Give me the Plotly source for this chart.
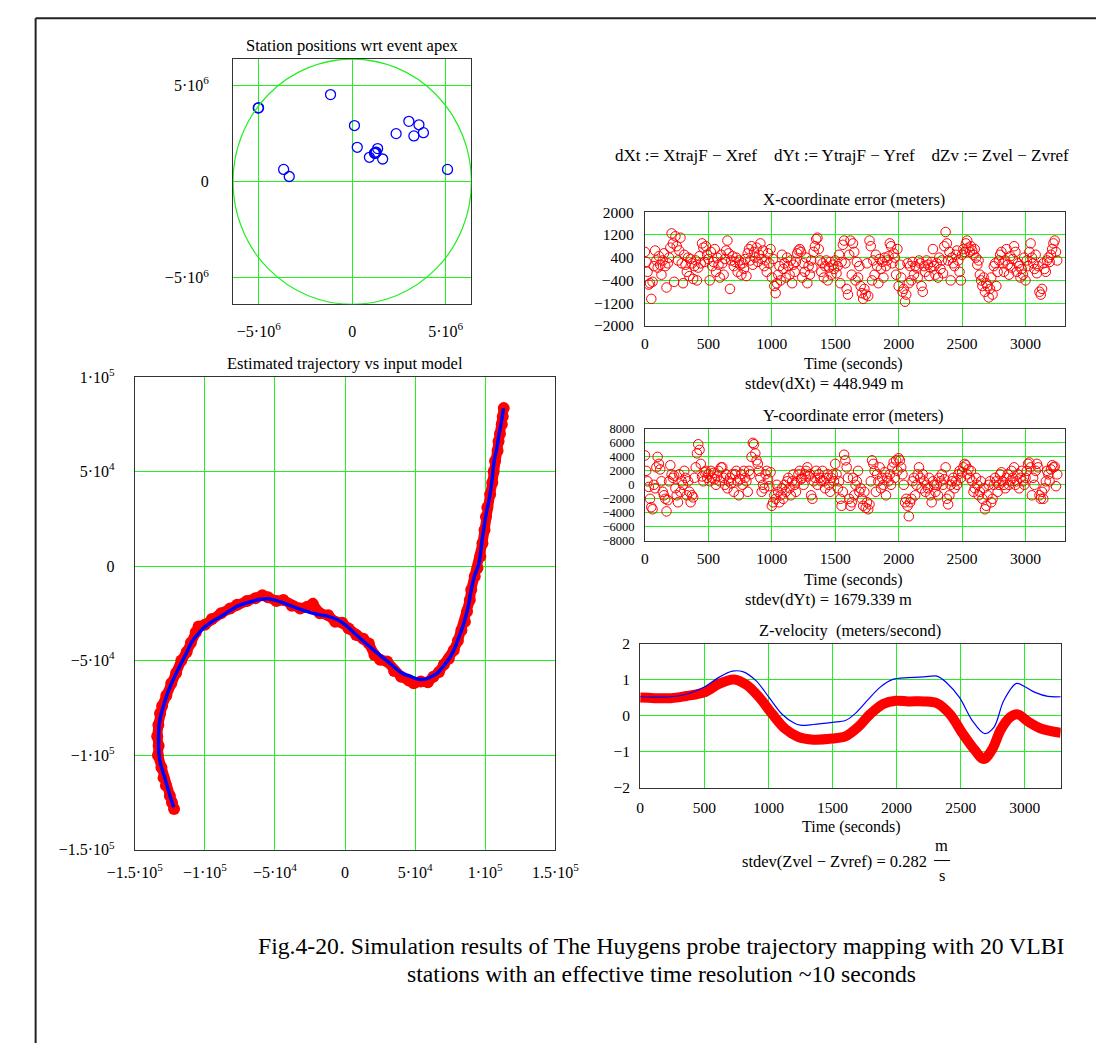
import plotly.graph_objects as go

# ---------------- data ----------------
# Station positions (m)
station_x = [-5.03e6, -5.01e6, -1.16e6, 0.12e6, 0.27e6, 0.92e6, 1.19e6, 1.28e6, 1.36e6, 1.63e6,
             2.35e6, 3.03e6, 3.57e6, 3.30e6, 3.81e6, 5.10e6, -3.67e6, -3.37e6, 1.22e6, 1.26e6]
station_y = [3.83e6, 3.85e6, 4.53e6, 2.92e6, 1.79e6, 1.27e6, 1.49e6, 1.54e6, 1.72e6, 1.18e6,
             2.50e6, 3.14e6, 2.96e6, 2.38e6, 2.55e6, 0.64e6, 0.64e6, 0.27e6, 1.47e6, 1.52e6]
earth_radius = 6.378e6

# Input model trajectory (m)
ref_x = [-122.3e3, -125.5e3, -129.0e3, -131.5e3, -132.8e3, -133.0e3, -132.8e3, -131.5e3, -129.8e3, -127.0e3,
         -124.1e3, -120.0e3, -116.2e3, -112.5e3, -109.3e3, -105.0e3, -100.3e3, -94.0e3, -87.8e3, -82.0e3,
         -76.4e3, -68.0e3, -60.5e3, -55.0e3, -50.0e3, -44.0e3, -37.0e3, -28.6e3, -20.0e3, -12.8e3,
         -5.0e3, 0.9e3, 6.0e3, 12.3e3, 19.0e3, 25.9e3, 32.0e3, 37.3e3, 41.5e3, 46.4e3,
         50.5e3, 54.4e3, 58.5e3, 62.3e3, 66.0e3, 69.1e3, 72.5e3, 75.9e3, 79.0e3, 81.7e3,
         84.2e3, 86.2e3, 88.0e3, 89.6e3, 92.0e3, 95.3e3, 98.0e3, 101.0e3, 103.0e3, 104.4e3,
         106.6e3, 108.5e3, 109.6e3, 111.5e3, 113.0e3]
ref_y = [-127.6e3, -120.0e3, -111.0e3, -105.0e3, -99.0e3, -92.0e3, -85.0e3, -79.0e3, -74.6e3, -68.0e3,
         -62.5e3, -56.0e3, -50.4e3, -45.0e3, -40.0e3, -36.0e3, -32.3e3, -29.0e3, -26.3e3, -23.5e3,
         -21.1e3, -19.0e3, -17.6e3, -17.3e3, -18.0e3, -19.5e3, -21.5e3, -23.7e3, -25.5e3, -26.5e3,
         -28.5e3, -31.5e3, -35.0e3, -39.2e3, -43.5e3, -47.8e3, -51.5e3, -54.8e3, -57.0e3, -58.2e3,
         -59.5e3, -60.0e3, -59.5e3, -58.2e3, -56.5e3, -53.9e3, -50.8e3, -47.0e3, -42.0e3, -36.6e3,
         -31.5e3, -26.3e3, -21.0e3, -14.1e3, -6.0e3, 0.8e3, 15.0e3, 29.0e3, 36.0e3, 42.8e3,
         56.6e3, 63.0e3, 68.8e3, 76.0e3, 83.4e3]

# Estimated trajectory (m)
est_x = [-122.0e3, -123.5e3, -125.0e3, -127.8e3, -129.5e3, -131.0e3, -133.5e3, -133.0e3, -134.0e3, -133.2e3,
         -132.0e3, -130.5e3, -127.5e3, -124.0e3, -120.5e3, -116.8e3, -113.0e3, -110.0e3, -106.5e3, -104.5e3,
         -100.0e3, -95.0e3, -88.5e3, -82.0e3, -77.0e3, -70.0e3, -64.0e3, -59.0e3, -55.0e3, -49.0e3,
         -44.0e3, -38.0e3, -32.0e3, -27.0e3, -23.0e3, -18.0e3, -12.0e3, -7.0e3, -2.0e3, 2.5e3,
         8.0e3, 13.0e3, 17.0e3, 21.0e3, 25.0e3, 30.0e3, 35.0e3, 40.0e3, 45.5e3, 49.0e3,
         54.0e3, 59.0e3, 63.0e3, 67.0e3, 70.5e3, 74.0e3, 77.5e3, 80.5e3, 83.0e3, 85.5e3,
         87.0e3, 89.0e3, 90.0e3, 92.5e3, 94.5e3, 96.5e3, 98.0e3, 99.5e3, 100.5e3, 101.5e3,
         103.5e3, 105.0e3, 106.0e3, 107.0e3, 108.8e3, 109.5e3, 110.5e3, 111.8e3, 112.5e3, 113.2e3]
est_y = [-128.5e3, -125.0e3, -121.5e3, -116.0e3, -112.0e3, -106.5e3, -100.0e3, -95.0e3, -90.0e3, -84.0e3,
         -78.0e3, -74.0e3, -68.5e3, -62.0e3, -56.5e3, -50.0e3, -45.5e3, -40.5e3, -35.0e3, -32.0e3,
         -31.0e3, -28.0e3, -25.0e3, -22.5e3, -20.5e3, -18.5e3, -17.0e3, -15.5e3, -16.5e3, -18.5e3,
         -18.0e3, -21.0e3, -22.5e3, -21.5e3, -20.0e3, -25.0e3, -26.0e3, -29.5e3, -30.0e3, -33.0e3,
         -36.5e3, -38.5e3, -41.0e3, -47.0e3, -49.5e3, -50.5e3, -55.5e3, -58.5e3, -60.5e3, -62.0e3,
         -61.0e3, -61.5e3, -58.5e3, -56.0e3, -52.0e3, -49.0e3, -44.5e3, -39.5e3, -34.0e3, -29.5e3,
         -24.0e3, -18.0e3, -12.5e3, -5.5e3, -1.0e3, 5.0e3, 12.0e3, 19.0e3, 26.0e3, 31.0e3,
         38.0e3, 44.0e3, 50.0e3, 55.5e3, 61.0e3, 66.0e3, 70.0e3, 75.0e3, 79.0e3, 83.5e3]

# Time samples (s), 10 s resolution
t_err = list(range(0, 3260, 10))

# X-coordinate error (m)
dXt = [600, 250, -100, -550, -500, -1050, -450, 100, 650, 300,
       50, 450, 150, -200, 300, 550, 100, -650, 200, 400,
       750, 1250, 900, -450, 1150, 800, 300, 650, 1100, 200,
       -500, 500, 150, -100, 400, -250, 350, 200, -350, 100,
       300, -400, 50, 450, 200, 900, 750, 250, 800, 500,
       350, -400, 600, 100, 250, 700, -100, 400, 150, -300,
       500, 200, -200, 350, 650, 1000, 550, -700, 300, 450,
       100, 250, 400, -100, 300, 150, -200, 200, 0, 350,
       -250, 550, 700, 300, 800, 150, 600, 400, 750, 250,
       500, 900, 350, 650, 100, 300, -100, 550, 200, 700,
       -300, 350, -600, -850, -500, -200, 100, -400, 500, 0,
       200, -300, 400, 100, -200, 300, -500, 150, -100, 250,
       550, 650, 700, 600, -300, 200, -100, 400, -500, 100,
       -200, 300, 50, 600, 800, 1050, 1100, 700, 300, -100,
       200, -300, 100, 300, -400, 50, 250, -200, 150, 0,
       300, -150, 100, 500, -500, 250, 850, 1000, 200, -700,
       -900, 500, 1000, -200, 900, 600, -400, 250, -300, 100,
       -600, -850, -1050, -700, -900, 200, -950, 1000, 800, -400,
       300, -200, 500, 100, -500, 350, 0, 250, -300, 400,
       100, 300, 450, 900, 800, 200, 550, 400, -200, 700,
       -600, 150, -300, -800, -700, -1150, -900, 200, -500, 100,
       -400, 250, -200, 100, 50, -300, 300, 200, -600, -800,
       100, -100, 300, 150, -250, 50, 250, 700, 100, -200,
       200, -300, 400, 0, 300, -150, 800, 1300, 900, 300,
       600, -400, 400, 200, 100, 500, 650, 300, -100, -400,
       500, 700, 600, 900, 1000, 750, 600, 800, 650, 500,
       700, 400, 150, 300, -200, -400, -600, -300, -800, -500,
       -600, -1000, -700, -300, -900, 100, 200, -600, -100, 300,
       500, 600, 200, -100, 300, 700, 150, -200, 450, 50,
       350, 800, 600, -100, 200, 100, -300, 0, -200, 400,
       -400, 300, 100, 600, 900, 400, 200, 0, 500, -150,
       100, -800, -900, -700, 200, 0, -100, 300, 400, 250,
       500, 700, 900, 1000, 600, 300]

# Y-coordinate error (m)
dYt = [4200, 2000, 500, -300, -2000, -3200, -3500, 0, -500, 2500,
       4000, 3000, 2200, 500, -1000, -1500, -2000, -3800, -2200, 500,
       2800, 1500, 1000, 1300, -500, -1500, -2500, 1500, -1000, 500,
       0, 2000, 1000, -1500, 500, -1000, -2500, -1500, -1800, 1000,
       2500, 4500, 5800, 5000, 3000, 1200, 500, 1800, 2000, 1000,
       1500, 500, 2000, 1000, 1700, 800, 0, 1200, 2000, 500,
       2500, 2500, 1000, 0, 1500, -500, 500, 1000, 200, 1500,
       -1000, 1500, 2000, 500, -1500, 800, 1500, 0, 2000, 1000,
       500, -1000, 2000, 1500, 4000, 6000, 5800, 4500, 3500, 3000,
       2000, 1000, -1000, 0, -500, 1500, 2000, 800, -200, 1800,
       -3000, -2500, -1500, -2000, 0, -1000, -2500, -1500, -500, -2000,
       0, -1000, 500, 1000, -500, -1500, 500, 1500, 0, -1000,
       500, 1500, 2000, 800, 1000, 0, 1500, 2000, 2500, 1200,
       1500, -1500, -2000, 500, 1000, 2000, 0, 1500, 1000, 500,
       2000, 500, -500, 1000, 1500, 0, -1000, 1000, 1500, 500,
       3000, 1500, -500, 500, -2000, -3000, -1000, 4300, 3500, 2500,
       1000, -2000, -3000, -2500, 1000, -1500, 0, 500, 2000, -1000,
       -500, -2000, -3000, -1000, -3300, -2500, -3500, -2800, 500, 3500,
       3000, 2000, -1000, 1500, 500, 2500, -500, 1000, 0, 1800,
       -1500, 1000, 500, 1500, 0, 2500, 3200, 1000, 3500, 2000,
       3800, 3500, 2500, 1500, 0, -2500, -2000, -3000, -4500, -2500,
       -2000, 500, 1000, -1500, 0, 1500, 2500, 1000, -500, 1500,
       500, -1000, 0, -500, 1000, -1500, -2500, 500, 0, -1000,
       0, -1500, 1000, 500, 1500, 0, 800, 2500, -2000, -2800,
       -1500, 0, 500, 1000, -500, 500, 0, 1500, 2000, 1000,
       1800, 2500, 3000, 2800, 1500, 2200, 1000, 2000, 500, -1000,
       -500, 1000, 0, -1500, -1000, 500, -2000, -500, -3500, -3000,
       -1500, 0, 500, -2500, -2000, 0, 1000, 500, -1000, 0,
       1500, 1800, 500, 0, -500, 1000, 1500, 0, 500, 2000,
       1000, 2500, 0, 500, 1500, -500, 1000, 2000, 500, 0,
       1000, 2000, 3000, 3200, 2500, -1500, 1000, 0, 2000, 3000,
       2500, -1500, -2000, -1000, -2000, -500, 500, 2000, 1500, 500,
       2200, 2800, 2500, 2600, -200, 1500]

# Z-velocity (m/s)
t_zref = [0, 240, 360, 500, 610, 720, 805, 905, 1005, 1105, 1200, 1250, 1350, 1500, 1600, 1670,
          1770, 1870, 1970, 2090, 2215, 2315, 2390, 2490, 2590, 2685, 2760, 2835, 2935, 3005,
          3080, 3180, 3280]
zvref = [0.53, 0.53, 0.60, 0.80, 1.06, 1.24, 1.22, 0.97, 0.51, 0.05, -0.20, -0.26, -0.24, -0.18,
         -0.13, 0.04, 0.42, 0.79, 1.01, 1.06, 1.08, 1.10, 0.92, 0.51, -0.13, -0.49, -0.31, 0.42,
         0.90, 0.80, 0.65, 0.54, 0.53]
t_zvel = [0, 240, 360, 500, 610, 730, 830, 930, 1030, 1130, 1230, 1350, 1500, 1600, 1700, 1795,
          1895, 1995, 2090, 2215, 2315, 2415, 2515, 2610, 2680, 2750, 2810, 2885, 2945, 3030,
          3130, 3280]
zvel = [0.51, 0.49, 0.55, 0.65, 0.88, 1.01, 0.86, 0.51, 0.05, -0.36, -0.58, -0.66, -0.63, -0.57,
        -0.31, 0.05, 0.33, 0.42, 0.40, 0.40, 0.35, 0.05, -0.49, -0.95, -1.20, -0.90, -0.40,
        -0.04, 0.04, -0.17, -0.36, -0.47]

M = "\u2212"
st_ticks = [-5e6, 0, 5e6]
st_text = [M + "5·10<sup>6</sup>", "0", "5·10<sup>6</sup>"]
tr_xticks = [-1.5e5, -1e5, -5e4, 0, 5e4, 1e5, 1.5e5]
tr_xtext = [M + "1.5·10<sup>5</sup>", M + "1·10<sup>5</sup>", M + "5·10<sup>4</sup>", "0",
            "5·10<sup>4</sup>", "1·10<sup>5</sup>", "1.5·10<sup>5</sup>"]
tr_yticks = [-1.5e5, -1e5, -5e4, 0, 5e4, 1e5]
tr_ytext = [M + "1.5·10<sup>5</sup>", M + "1·10<sup>5</sup>", M + "5·10<sup>4</sup>", "0",
            "5·10<sup>4</sup>", "1·10<sup>5</sup>"]
t_ticks = [0, 500, 1000, 1500, 2000, 2500, 3000]
xe_ticks = [-2000, -1200, -400, 400, 1200, 2000]
ye_ticks = [-8000, -6000, -4000, -2000, 0, 2000, 4000, 6000, 8000]
zv_ticks = [-2, -1, 0, 1, 2]

# ---------------- figure ----------------
W, H = 1120, 1052
FONT = "Liberation Serif"
GREEN = "#22ee22"
RED = "#ff0000"
BLUE = "#0000ff"


def px(x):
    return x / W


def py(y):
    return 1 - y / H


fig = go.Figure()

fig.add_trace(go.Scatter(x=station_x, y=station_y, mode="markers",
                         marker=dict(symbol="circle-open", size=10, color=BLUE, line=dict(width=1.3)),
                         xaxis="x", yaxis="y", showlegend=False))

fig.add_trace(go.Scatter(x=est_x, y=est_y, mode="lines+markers",
                         line=dict(color=RED, width=10), marker=dict(size=12, color=RED),
                         xaxis="x2", yaxis="y2", showlegend=False))
fig.add_trace(go.Scatter(x=ref_x, y=ref_y, mode="lines", line=dict(color=BLUE, width=3.5, shape="spline"),
                         xaxis="x2", yaxis="y2", showlegend=False))

fig.add_trace(go.Scatter(x=t_err, y=dXt, mode="markers",
                         marker=dict(symbol="circle-open", size=9.5, color=RED, line=dict(width=1)),
                         xaxis="x3", yaxis="y3", showlegend=False))
fig.add_trace(go.Scatter(x=t_err, y=dYt, mode="markers",
                         marker=dict(symbol="circle-open", size=9.5, color=RED, line=dict(width=1)),
                         xaxis="x4", yaxis="y4", showlegend=False))

fig.add_trace(go.Scatter(x=t_zvel, y=zvel, mode="lines", line=dict(color=RED, width=10, shape="spline", smoothing=0.9),
                         xaxis="x5", yaxis="y5", showlegend=False))
fig.add_trace(go.Scatter(x=t_zref, y=zvref, mode="lines", line=dict(color=BLUE, width=1.2, shape="spline", smoothing=0.9),
                         xaxis="x5", yaxis="y5", showlegend=False))


def axis(domain, rng, tickvals, ticktext=None, standoff=8, anchor=None, size=15.5):
    d = dict(domain=domain, range=rng, tickvals=tickvals, showline=True, mirror=True,
             linecolor="#333333", linewidth=1, showgrid=True, gridcolor=GREEN, gridwidth=1,
             zeroline=False, ticks="", ticklabelstandoff=standoff, fixedrange=True,
             tickfont=dict(family=FONT, size=size, color="black"))
    if ticktext is not None:
        d["ticktext"] = ticktext
    if anchor:
        d["anchor"] = anchor
    return d


R = earth_radius
fig.update_layout(
    width=W, height=H, autosize=False, margin=dict(l=0, r=0, t=0, b=0),
    paper_bgcolor="white", plot_bgcolor="white",
    xaxis=axis([px(215), px(465)], [-R, R], st_ticks, st_text, 12, "y", 16),
    yaxis=axis([py(299), py(49)], [-R, R], st_ticks, st_text, 20, "x", 16),
    xaxis2=axis([px(112), px(553)], [-1.5e5, 1.5e5], tr_xticks, tr_xtext, 8, "y2", 16),
    yaxis2=axis([py(855), py(373)], [-1.5e5, 1e5], tr_yticks, tr_ytext, 16, "x2", 16),
    xaxis3=axis([px(647), px(1088)], [0, 3315], t_ticks, None, 4, "y3"),
    yaxis3=axis([py(321), py(205)], [-2000, 2000], xe_ticks,
                [str(v).replace("-", M) for v in xe_ticks], 7, "x3"),
    xaxis4=axis([px(647), px(1088)], [0, 3315], t_ticks, None, 4, "y4"),
    yaxis4=axis([py(540), py(426)], [-8000, 8000], ye_ticks,
                [str(v).replace("-", M) for v in ye_ticks], 7, "x4", 12.5),
    xaxis5=axis([px(642), px(1083)], [0, 3280], t_ticks, None, 5, "y5"),
    yaxis5=axis([py(792), py(645)], [-2, 2], zv_ticks,
                [str(v).replace("-", M) for v in zv_ticks], 6, "x5"),
)

# Earth circle
fig.add_shape(type="circle", xref="x", yref="y", x0=-R, y0=-R, x1=R, y1=R,
              line=dict(color=GREEN, width=1.2), layer="above")

# page frame (top and left)
fig.add_shape(type="line", xref="paper", yref="paper", x0=px(8), x1=1, y0=py(7.5), y1=py(7.5),
              line=dict(color="#222222", width=2))
fig.add_shape(type="line", xref="paper", yref="paper", x0=px(8), x1=px(8), y0=0, y1=py(7.5),
              line=dict(color="#222222", width=2))


def text(x, y, s, size=17, anchor="center"):
    fig.add_annotation(x=px(x), y=py(y), xref="paper", yref="paper", text=s, showarrow=False,
                       xanchor=anchor, yanchor="middle",
                       font=dict(family=FONT, size=size, color="black"))


text(340, 35, "Station positions wrt event apex", 16.5)
text(332, 359, "Estimated trajectory vs input model", 16.5)
text(854, 147, "dXt := XtrajF " + M + " Xref&nbsp;&nbsp;&nbsp;&nbsp;dYt := YtrajF " + M +
     " Yref&nbsp;&nbsp;&nbsp;&nbsp;dZv := Zvel " + M + " Zvref", 17)
text(866, 192, "X-coordinate error (meters)", 16.5)
text(866, 360, "Time (seconds)", 16)
text(835, 380, "stdev(dXt) = 448.949 m", 16.5)
text(866, 412, "Y-coordinate error (meters)", 16.5)
text(866, 580, "Time (seconds)", 16)
text(839, 600, "stdev(dYt) = 1679.339 m", 16.5)
text(862, 632, "Z-velocity&nbsp;&nbsp;(meters/second)", 16.5)
text(864, 832, "Time (seconds)", 16)
text(945, 867, "stdev(Zvel " + M + " Zvref) = 0.282", 16.5, "right")
text(958, 851, "m", 16.5)
text(958, 881, "s", 16.5)
fig.add_shape(type="line", xref="paper", yref="paper", x0=px(950), x1=px(967), y0=py(866), y1=py(866),
              line=dict(color="black", width=1))

text(664, 953, "Fig.4-20. Simulation results of The Huygens probe trajectory mapping with 20 VLBI", 23.7)
text(664, 982, "stations with an effective time resolution ~10 seconds", 23.7)

fig.write_html("out.html",
               post_script="document.body.style.margin='0px';document.body.style.padding='0px';"
                           "document.documentElement.style.overflow='hidden';")
